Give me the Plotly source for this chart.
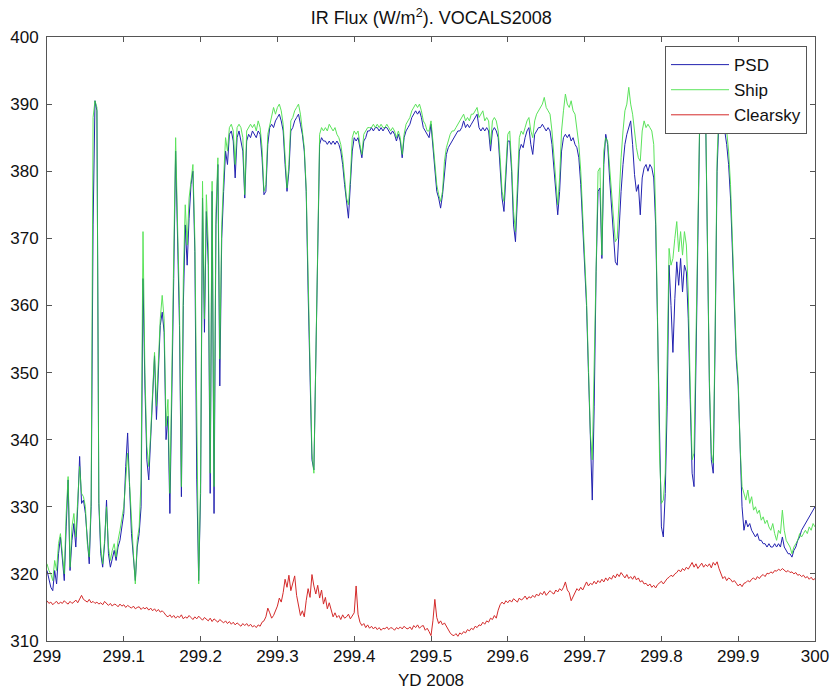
import plotly.graph_objects as go

# Year-day axis: 299.000 .. 300.000 in steps of 0.0025 (401 samples)
yd = [round(299 + i * 0.0025, 4) for i in range(401)]

psd = [
    320.5, 319.0, 318.0, 317.5,  # 299.00
    320.5, 318.5, 323.0, 325.5,  # 299.01
    321.5, 319.0, 327.0, 334.0,  # 299.02
    320.5, 325.0, 327.5, 324.0,  # 299.03
    330.0, 337.5, 330.5, 331.0,  # 299.04
    329.0, 325.0, 321.5, 330.0,  # 299.05
    372.0, 390.5, 389.0, 330.5,  # 299.06
    323.0, 321.0, 324.5, 331.0,  # 299.07
    323.0, 321.0, 322.5, 323.5,  # 299.08
    322.0, 324.0, 325.0, 327.0,  # 299.09
    329.0, 336.0, 341.0, 333.0,  # 299.10
    326.0, 322.5, 319.0, 324.0,  # 299.11
    326.0, 330.0, 364.0, 348.0,  # 299.12
    337.0, 334.0, 339.5, 345.0,  # 299.13
    352.5, 343.0, 350.0, 357.0,  # 299.14
    359.0, 356.0, 340.0, 343.5,  # 299.15
    329.0, 350.0, 364.0, 383.0,  # 299.16
    370.0, 357.0, 331.5, 360.0,  # 299.17
    372.0, 366.0, 373.0, 378.0,  # 299.18
    380.0, 368.0, 334.0, 319.0,  # 299.19
    332.0, 376.0, 356.0, 374.0,  # 299.20
    366.0, 332.0, 377.0, 329.0,  # 299.21
    372.0, 381.0, 348.0, 370.0,  # 299.22
    377.0, 383.0, 381.0, 385.5,  # 299.23
    386.0, 384.5, 379.0, 385.0,  # 299.24
    386.0, 384.5, 383.0, 376.0,  # 299.25
    384.5, 385.5, 385.0, 386.0,  # 299.26
    385.5, 385.0, 386.0, 385.5,  # 299.27
    382.0, 376.5, 377.0, 384.0,  # 299.28
    386.5, 387.0, 386.5, 387.5,  # 299.29
    388.0, 388.5, 387.5, 386.0,  # 299.30
    381.0, 377.0, 380.0, 386.0,  # 299.31
    386.5, 387.5, 388.0, 388.5,  # 299.32
    387.0, 385.5, 383.0, 377.0,  # 299.33
    362.0, 349.0, 337.0, 335.5,  # 299.34
    352.0, 368.0, 384.0, 385.0,  # 299.35
    384.5, 384.5, 384.0, 384.5,  # 299.36
    384.0, 384.5, 384.0, 384.5,  # 299.37
    384.0, 383.0, 381.0, 378.0,  # 299.38
    375.0, 373.0, 378.0, 383.0,  # 299.39
    385.0, 384.5, 385.0, 383.5,  # 299.40
    382.0, 384.5, 385.0, 386.0,  # 299.41
    386.0, 386.5, 386.0, 386.5,  # 299.42
    386.5, 386.0, 386.5, 386.0,  # 299.43
    386.5, 386.5, 386.0, 385.5,  # 299.44
    386.0, 385.5, 384.5, 385.5,  # 299.45
    384.5, 382.0, 385.0, 386.0,  # 299.46
    386.5, 387.0, 388.0, 388.5,  # 299.47
    389.0, 388.5, 389.0, 388.0,  # 299.48
    386.5, 386.0, 385.5, 385.0,  # 299.49
    387.0, 384.0, 380.0, 377.0,  # 299.50
    376.0, 374.5, 376.5, 380.0,  # 299.51
    382.5, 383.5, 384.0, 384.5,  # 299.52
    385.0, 385.5, 386.0, 386.0,  # 299.53
    386.5, 387.5, 386.5, 387.0,  # 299.54
    386.5, 387.0, 387.5, 388.0,  # 299.55
    388.5, 386.5, 386.0, 386.5,  # 299.56
    386.0, 386.5, 386.0, 383.0,  # 299.57
    386.0, 386.5, 386.0, 385.0,  # 299.58
    381.0, 376.0, 374.0, 380.0,  # 299.59
    384.5, 384.5, 380.0, 372.0,  # 299.60
    369.5, 376.0, 383.0, 384.0,  # 299.61
    383.5, 385.0, 386.0, 386.5,  # 299.62
    384.0, 382.5, 385.5, 386.0,  # 299.63
    386.5, 386.5, 387.0, 386.5,  # 299.64
    386.0, 386.5, 386.0, 384.0,  # 299.65
    380.0, 376.0, 373.5, 377.0,  # 299.66
    383.0, 385.0, 385.5, 385.0,  # 299.67
    385.5, 384.5, 385.0, 384.0,  # 299.68
    383.5, 382.0, 378.0, 372.0,  # 299.69
    366.0, 360.0, 350.0, 340.0,  # 299.70
    331.0, 345.0, 365.0, 377.0,  # 299.71
    377.5, 367.0, 381.0, 385.5,  # 299.72
    384.0, 379.0, 375.0, 371.0,  # 299.73
    366.5, 366.0, 372.0, 377.0,  # 299.74
    381.0, 384.0, 385.5, 386.5,  # 299.75
    387.5, 384.0, 379.5, 377.0,  # 299.76
    378.0, 373.5, 379.0, 380.5,  # 299.77
    381.0, 380.0, 381.0, 380.5,  # 299.78
    379.0, 372.0, 358.0, 340.0,  # 299.79
    327.0, 325.5, 332.0, 345.0,  # 299.80
    366.0, 360.0, 353.0, 361.0,  # 299.81
    366.5, 363.0, 367.0, 362.0,  # 299.82
    366.0, 365.0, 358.0, 346.0,  # 299.83
    335.0, 333.0, 350.0, 372.0,  # 299.84
    388.0, 389.5, 389.0, 389.0,  # 299.85
    370.0, 348.0, 337.0, 335.0,  # 299.86
    355.0, 380.0, 388.0, 388.5,  # 299.87
    387.0, 386.0, 384.0, 381.0,  # 299.88
    376.0, 368.0, 360.0, 352.0,  # 299.89
    348.0, 337.0, 330.0, 326.5,  # 299.90
    328.0, 327.0, 327.5, 326.5,  # 299.91
    326.0, 325.5, 326.0, 325.0,  # 299.92
    325.0, 324.5, 324.5, 324.0,  # 299.93
    324.5, 324.0, 324.0, 324.5,  # 299.94
    324.0, 324.5, 324.0, 325.5,  # 299.95
    324.0, 323.5, 323.0, 323.0,  # 299.96
    322.5, 323.5, 324.0, 325.0,  # 299.97
    325.5, 326.5, 327.0, 327.5,  # 299.98
    328.0, 328.5, 329.0, 329.5,  # 299.99
    330.0,                       # 300.00
]

ship = [
    321.5, 320.5, 320.0, 319.0,  # 299.00
    322.0, 320.5, 324.5, 326.0,  # 299.01
    323.0, 320.0, 329.0, 334.5,  # 299.02
    321.0, 327.0, 329.0, 325.5,  # 299.03
    331.0, 336.0, 332.0, 331.5,  # 299.04
    330.0, 324.5, 322.5, 331.0,  # 299.05
    388.0, 390.5, 389.5, 331.0,  # 299.06
    324.0, 321.5, 325.0, 330.0,  # 299.07
    324.0, 322.0, 323.5, 324.5,  # 299.08
    322.5, 325.0, 326.5, 328.0,  # 299.09
    330.0, 334.0, 338.0, 333.5,  # 299.10
    327.0, 323.0, 318.5, 325.0,  # 299.11
    327.0, 334.0, 371.0, 350.0,  # 299.12
    339.0, 336.0, 341.0, 347.0,  # 299.13
    353.0, 345.0, 352.0, 358.0,  # 299.14
    361.5, 358.0, 342.0, 346.0,  # 299.15
    332.0, 352.0, 366.0, 385.0,  # 299.16
    372.0, 360.0, 333.0, 364.0,  # 299.17
    375.0, 369.0, 376.0, 379.0,  # 299.18
    381.0, 370.0, 338.0, 318.5,  # 299.19
    334.0, 378.5, 358.0, 376.5,  # 299.20
    369.0, 335.0, 378.5, 333.0,  # 299.21
    374.0, 382.0, 352.0, 372.0,  # 299.22
    379.0, 385.0, 383.0, 386.5,  # 299.23
    387.0, 386.0, 381.0, 386.5,  # 299.24
    387.0, 386.5, 385.0, 376.5,  # 299.25
    386.0, 386.5, 387.0, 386.5,  # 299.26
    387.0, 386.0, 387.5, 386.5,  # 299.27
    383.5, 377.0, 378.0, 385.5,  # 299.28
    387.0, 388.0, 389.5, 388.5,  # 299.29
    389.5, 390.0, 389.0, 387.0,  # 299.30
    382.0, 377.5, 381.0, 387.5,  # 299.31
    388.0, 389.0, 389.5, 390.0,  # 299.32
    388.5, 386.0, 383.5, 377.5,  # 299.33
    363.0, 350.0, 338.0, 335.0,  # 299.34
    354.0, 370.0, 385.5, 386.5,  # 299.35
    386.0, 386.5, 386.0, 387.0,  # 299.36
    386.5, 386.0, 386.5, 385.5,  # 299.37
    385.0, 384.0, 382.0, 378.5,  # 299.38
    376.0, 375.0, 379.0, 385.0,  # 299.39
    386.0, 385.5, 386.0, 384.0,  # 299.40
    382.5, 385.5, 386.0, 386.5,  # 299.41
    386.5, 386.5, 387.0, 386.5,  # 299.42
    387.0, 386.5, 387.0, 386.5,  # 299.43
    386.5, 387.0, 386.5, 386.0,  # 299.44
    386.5, 386.0, 385.0, 386.0,  # 299.45
    385.0, 382.5, 385.5, 387.0,  # 299.46
    387.5, 388.0, 389.0, 389.5,  # 299.47
    390.0, 389.5, 390.0, 389.0,  # 299.48
    387.5, 387.0, 386.0, 386.0,  # 299.49
    387.5, 384.5, 381.0, 378.0,  # 299.50
    376.5, 375.5, 377.0, 381.5,  # 299.51
    383.5, 384.5, 385.5, 386.0,  # 299.52
    386.0, 386.5, 387.0, 387.5,  # 299.53
    388.0, 388.5, 387.5, 388.0,  # 299.54
    387.5, 388.5, 388.5, 389.0,  # 299.55
    389.5, 388.0, 388.5, 389.0,  # 299.56
    387.5, 388.0, 387.5, 384.0,  # 299.57
    387.5, 388.0, 387.5, 386.0,  # 299.58
    382.0, 377.0, 375.5, 381.0,  # 299.59
    385.5, 386.0, 381.0, 374.0,  # 299.60
    371.0, 378.0, 385.0, 386.0,  # 299.61
    385.5, 386.5, 387.5, 388.0,  # 299.62
    386.0, 385.0, 387.5, 388.5,  # 299.63
    389.0, 389.5, 390.0, 391.0,  # 299.64
    389.5, 389.0, 388.5, 386.0,  # 299.65
    382.0, 378.0, 375.0, 379.0,  # 299.66
    386.0, 389.0, 391.5, 390.0,  # 299.67
    389.5, 390.5, 389.0, 388.5,  # 299.68
    386.0, 384.0, 380.0, 374.0,  # 299.69
    367.0, 361.0, 351.0, 341.0,  # 299.70
    337.0, 350.0, 368.0, 380.0,  # 299.71
    380.5, 367.5, 383.0, 385.0,  # 299.72
    384.5, 381.0, 377.0, 373.0,  # 299.73
    369.5, 370.0, 377.0, 382.0,  # 299.74
    386.0, 389.0, 390.0, 392.5,  # 299.75
    390.0, 388.5, 386.0, 383.5,  # 299.76
    382.0, 381.5, 386.0, 387.5,  # 299.77
    386.5, 387.0, 386.5, 386.0,  # 299.78
    384.0, 374.0, 358.0, 338.0,  # 299.79
    330.5, 331.0, 335.0, 350.0,  # 299.80
    368.5, 366.0, 367.0, 370.0,  # 299.81
    372.5, 368.0, 371.0, 367.5,  # 299.82
    371.0, 369.0, 362.0, 348.0,  # 299.83
    337.0, 338.0, 355.0, 374.0,  # 299.84
    389.0, 390.0, 389.5, 389.5,  # 299.85
    371.0, 349.0, 338.0, 336.5,  # 299.86
    357.0, 382.0, 389.0, 389.5,  # 299.87
    388.5, 388.0, 386.0, 383.0,  # 299.88
    378.0, 370.0, 361.0, 353.0,  # 299.89
    349.0, 339.0, 333.0, 332.0,  # 299.90
    331.0, 332.5, 330.5, 331.5,  # 299.91
    329.5, 330.0, 329.0, 329.5,  # 299.92
    328.0, 328.5, 327.5, 328.0,  # 299.93
    327.0, 326.5, 327.5, 326.0,  # 299.94
    325.0, 326.5, 326.0, 329.5,  # 299.95
    326.5, 325.0, 324.5, 324.0,  # 299.96
    323.0, 324.0, 324.5, 325.0,  # 299.97
    326.0, 325.5, 326.0, 326.5,  # 299.98
    326.0, 327.0, 326.5, 327.5,  # 299.99
    327.0,                       # 300.00
]

clearsky = [
    316.0, 315.6, 315.8, 315.4,  # 299.00
    315.7, 315.9, 315.5, 315.8,  # 299.01
    315.6, 316.0, 315.7, 315.5,  # 299.02
    315.9, 315.6, 315.8, 316.1,  # 299.03
    315.7, 316.3, 316.8, 316.2,  # 299.04
    316.0, 315.8, 316.2, 315.7,  # 299.05
    315.9, 315.6, 315.8, 315.5,  # 299.06
    315.7, 315.4, 315.9, 315.6,  # 299.07
    315.3, 315.6, 315.2, 315.5,  # 299.08
    315.4, 315.1, 315.5, 315.2,  # 299.09
    315.4, 315.0, 315.3, 315.1,  # 299.10
    314.9, 315.2, 314.8, 315.0,  # 299.11
    315.1, 314.7, 315.0, 314.8,  # 299.12
    315.0, 314.6, 314.9, 314.5,  # 299.13
    314.8, 314.4, 314.7, 314.3,  # 299.14
    314.5, 314.2, 313.8, 313.6,  # 299.15
    313.9, 313.5, 313.8, 313.4,  # 299.16
    313.7, 313.5, 313.9, 313.3,  # 299.17
    313.6, 313.4, 313.8, 313.5,  # 299.18
    313.2, 313.6, 313.3, 313.7,  # 299.19
    313.4, 313.1, 313.5, 313.2,  # 299.20
    313.0, 313.4, 312.9, 313.3,  # 299.21
    313.1, 312.8, 313.2, 312.9,  # 299.22
    312.7, 313.0, 312.6, 312.9,  # 299.23
    312.5, 312.8, 312.4, 312.7,  # 299.24
    312.5, 312.2, 312.6, 312.3,  # 299.25
    312.6, 312.2, 312.5, 312.1,  # 299.26
    312.3, 312.0, 312.4, 312.2,  # 299.27
    312.8, 313.0, 313.6, 314.9,  # 299.28
    314.2, 313.4, 313.8, 314.6,  # 299.29
    315.2, 316.4, 315.8, 317.2,  # 299.30
    319.2, 318.0, 319.8, 317.5,  # 299.31
    318.6, 319.7, 316.8, 315.0,  # 299.32
    313.8, 314.5, 313.6, 316.0,  # 299.33
    317.8, 316.5, 319.9, 318.2,  # 299.34
    317.0, 318.3, 316.4, 317.6,  # 299.35
    315.5, 316.5, 314.8, 315.7,  # 299.36
    314.4, 313.6, 314.2, 313.5,  # 299.37
    313.8, 313.2, 313.9, 313.4,  # 299.38
    313.6, 314.0, 313.3, 313.8,  # 299.39
    314.2, 318.2, 314.0, 312.8,  # 299.40
    312.3, 312.6, 312.0, 312.4,  # 299.41
    311.9, 312.2, 311.8, 312.1,  # 299.42
    311.7, 312.0, 311.6, 311.9,  # 299.43
    311.8, 312.1, 311.7, 312.0,  # 299.44
    311.9, 311.6, 312.0, 311.8,  # 299.45
    312.1, 311.8, 312.2, 311.9,  # 299.46
    311.8, 312.1, 311.7, 312.3,  # 299.47
    312.0, 312.4, 311.9, 312.2,  # 299.48
    312.3, 311.6, 311.9, 311.4,  # 299.49
    310.8, 313.0, 316.2, 313.5,  # 299.50
    312.6, 313.0, 312.4, 312.7,  # 299.51
    312.2, 311.6, 311.2, 310.9,  # 299.52
    310.8, 311.1, 310.7, 311.2,  # 299.53
    311.0, 311.4, 311.2, 311.7,  # 299.54
    311.5, 311.9, 311.7, 312.2,  # 299.55
    312.0, 312.4, 312.3, 312.8,  # 299.56
    312.5, 313.0, 312.8, 313.4,  # 299.57
    313.2, 313.8, 313.4, 314.6,  # 299.58
    315.4, 315.8, 315.5, 316.0,  # 299.59
    315.7, 316.1, 315.8, 316.3,  # 299.60
    316.0, 315.8, 316.4, 316.1,  # 299.61
    316.3, 316.7, 316.2, 316.6,  # 299.62
    316.4, 316.8, 316.5, 317.0,  # 299.63
    316.7, 317.2, 316.9, 317.4,  # 299.64
    316.8, 317.1, 317.5, 317.2,  # 299.65
    317.0, 317.6, 317.3, 317.8,  # 299.66
    317.5, 318.0, 318.8, 317.6,  # 299.67
    317.2, 316.0, 316.6, 317.4,  # 299.68
    317.8, 317.5, 318.0, 317.6,  # 299.69
    318.3, 318.8, 318.2, 318.6,  # 299.70
    318.4, 318.9, 318.5, 319.0,  # 299.71
    318.7, 319.2, 318.8, 319.4,  # 299.72
    319.0, 319.5, 319.2, 319.8,  # 299.73
    319.4, 320.0, 319.6, 320.2,  # 299.74
    319.8, 319.4, 319.9, 319.3,  # 299.75
    319.6, 319.2, 319.7, 319.1,  # 299.76
    319.4, 318.8, 319.0, 318.5,  # 299.77
    318.6, 318.2, 318.5, 318.0,  # 299.78
    318.3, 317.9, 318.4, 318.6,  # 299.79
    318.9, 318.5, 319.0, 319.3,  # 299.80
    319.5, 319.8, 319.6, 320.0,  # 299.81
    320.2, 320.6, 320.3, 320.8,  # 299.82
    320.5, 321.0, 320.7, 321.3,  # 299.83
    321.7, 321.0, 321.5, 320.8,  # 299.84
    321.2, 321.6, 321.0, 321.4,  # 299.85
    321.1, 321.5, 320.9, 321.7,  # 299.86
    321.3, 321.8, 320.8, 320.0,  # 299.87
    319.3, 319.6, 319.0, 319.4,  # 299.88
    319.2, 318.8, 319.0, 318.6,  # 299.89
    318.2, 318.5, 318.1, 318.6,  # 299.90
    318.7, 319.0, 318.8, 319.2,  # 299.91
    319.4, 319.1, 319.6, 319.3,  # 299.92
    319.7, 319.9, 319.6, 320.1,  # 299.93
    320.0, 320.3, 320.1, 320.5,  # 299.94
    320.4, 320.7, 320.5, 320.8,  # 299.95
    320.6, 320.3, 320.5, 320.2,  # 299.96
    320.3, 320.0, 320.2, 319.8,  # 299.97
    319.9, 319.6, 319.8, 319.4,  # 299.98
    319.6, 319.2, 319.5, 319.1,  # 299.99
    319.3,                       # 300.00
]

x_ticks = [299, 299.1, 299.2, 299.3, 299.4, 299.5, 299.6, 299.7, 299.8, 299.9, 300]
x_labels = ["299", "299.1", "299.2", "299.3", "299.4", "299.5", "299.6", "299.7", "299.8", "299.9", "300"]
y_ticks = [310, 320, 330, 340, 350, 360, 370, 380, 390, 400]

series = [
    ("PSD", psd, "#2222b0", 1.0),
    ("Ship", ship, "#33dd33", 0.8),
    ("Clearsky", clearsky, "#d42a2a", 1.0),
]

FONT = "Liberation Sans, Arial"

fig = go.Figure()
for name, vals, col, op in series:
    fig.add_trace(go.Scatter(x=yd, y=vals, mode="lines", name=name, opacity=op,
                             line=dict(color=col, width=1)))

axis_common = dict(
    showline=True, linecolor="#555555", linewidth=1, mirror="ticks",
    ticks="inside", ticklen=5, tickcolor="#555555", showgrid=False,
    zeroline=False, automargin=False,
    tickfont=dict(family=FONT, size=17, color="#111111"),
)

fig.update_layout(
    width=834, height=692,
    margin=dict(l=47, r=19, t=37, b=51),
    paper_bgcolor="white", plot_bgcolor="white",
    title=dict(text="IR Flux (W/m<sup>2</sup>). VOCALS2008", x=0.517, xanchor="center",
               y=0.974, yanchor="middle",
               font=dict(family=FONT, size=18, color="#111111")),
    xaxis=dict(range=[299, 300], tickvals=x_ticks, ticktext=x_labels,
               title=dict(text="YD 2008", standoff=8,
                          font=dict(family=FONT, size=17, color="#111111")),
               **axis_common),
    yaxis=dict(range=[310, 400], tickvals=y_ticks, ticklabelstandoff=4, **axis_common),
    legend=dict(x=0.8047, y=0.985, xanchor="left", yanchor="top",
                bgcolor="white", bordercolor="#555555", borderwidth=1,
                font=dict(family=FONT, size=17, color="#111111"),
                itemwidth=58, tracegroupgap=0),
    showlegend=True,
)

fig.write_html("out.html")
